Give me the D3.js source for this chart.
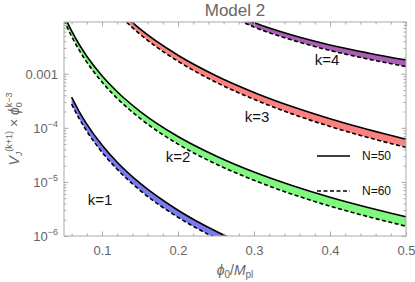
<!DOCTYPE html>
<html>
<head>
<meta charset="utf-8">
<script src="https://cdn.jsdelivr.net/npm/d3@7"></script>
<style>
	body { margin: 0; background: #fff; }
	text { font-family: 'Liberation Sans', Arial, sans-serif; }
</style>
</head>
<body>
<svg width="415" height="282"></svg>
<script>
// values, one grid of phi0/Mpl per band
const phiK1 = [0.06, 0.07, 0.08, 0.1, 0.12, 0.15, 0.2, 0.25, 0.3]
const k1N50 = [3.69e-4, 2.0e-4, 1.17e-4, 4.79e-5, 2.31e-5, 9.46e-6, 2.99e-6, 1.22e-6, 5.9e-7]
const k1N60 = [2.74e-4, 1.48e-4, 8.67e-5, 3.55e-5, 1.71e-5, 7.0e-6, 2.22e-6, 9.1e-7, 4.4e-7]

const phiK2 = [0.05, 0.06, 0.07, 0.08, 0.1, 0.12, 0.15, 0.2, 0.25, 0.3, 0.35, 0.4, 0.45, 0.5]
const k2N50 = [1.22e-2, 6.17e-3, 3.47e-3, 2.11e-3, 9.16e-4, 4.65e-4, 2.02e-4, 6.9e-5, 3.01e-5, 1.52e-5, 8.57e-6, 5.2e-6, 3.36e-6, 2.26e-6]
const k2N60 = [9.84e-3, 4.91e-3, 2.73e-3, 1.64e-3, 7.02e-4, 3.5e-4, 1.5e-4, 5.0e-5, 2.14e-5, 1.07e-5, 5.93e-6, 3.56e-6, 2.28e-6, 1.52e-6]

const phiK3 = [0.12, 0.15, 0.2, 0.25, 0.3, 0.35, 0.4, 0.45, 0.5]
const k3N50 = [1.61e-2, 6.73e-3, 2.19e-3, 9.18e-4, 4.51e-4, 2.47e-4, 1.47e-4, 9.27e-5, 6.15e-5]
const k3N60 = [1.31e-2, 5.37e-3, 1.7e-3, 6.95e-4, 3.36e-4, 1.81e-4, 1.06e-4, 6.62e-5, 4.35e-5]

const phiK4 = [0.25, 0.3, 0.35, 0.4, 0.45, 0.5]
const k4N50 = [1.9e-2, 8.83e-3, 5.19e-3, 3.4e-3, 2.42e-3, 1.79e-3]
const k4N60 = [1.6e-2, 7.29e-3, 4.2e-3, 2.69e-3, 1.87e-3, 1.36e-3]

const kNames = ['k=1', 'k=2', 'k=3', 'k=4']
const bandColors = ['#7b7bf0', '#80f880', '#fb8080', '#aa5fb5']
const legendNames = ['N=50', 'N=60']

const xTicks = [0.1, 0.2, 0.3, 0.4, 0.5]
const xTickLabels = ['0.1', '0.2', '0.3', '0.4', '0.5']
const xMinor = [0.06, 0.08, 0.12, 0.14, 0.16, 0.18, 0.22, 0.24, 0.26, 0.28,
	0.32, 0.34, 0.36, 0.38, 0.42, 0.44, 0.46, 0.48]
const yTicks = [1e-6, 1e-5, 1e-4, 1e-3]
const yTickLabels = [['10', '\u22126'], ['10', '\u22125'], ['10', '\u22124'], ['0.001', '']]

const pl = 64, pr = 406, pt = 22, pb = 236

const x = d3.scaleLinear().domain([0.05, 0.5]).range([pl, pr])
const y = d3.scaleLog().domain([1e-6, 0.00904]).range([pb, pt])

const svg = d3.select('svg')

svg.append('defs').append('clipPath')
	.attr('id', 'plot')
	.append('rect')
	.attr('x', pl).attr('y', pt)
	.attr('width', pr - pl).attr('height', pb - pt)

const bands = [
	{phi: phiK1, hi: k1N50, lo: k1N60},
	{phi: phiK2, hi: k2N50, lo: k2N60},
	{phi: phiK3, hi: k3N50, lo: k3N60},
	{phi: phiK4, hi: k4N50, lo: k4N60}
].map((b, i) => ({
	color: bandColors[i],
	pts: b.phi.map((p, j) => ({phi: p, hi: b.hi[j], lo: b.lo[j]}))
}))

const plot = svg.append('g').attr('clip-path', 'url(#plot)')

const area = d3.area()
	.x(d => x(d.phi))
	.y0(d => y(d.lo))
	.y1(d => y(d.hi))
	.curve(d3.curveMonotoneX)
const lineHi = d3.line().x(d => x(d.phi)).y(d => y(d.hi)).curve(d3.curveMonotoneX)
const lineLo = d3.line().x(d => x(d.phi)).y(d => y(d.lo)).curve(d3.curveMonotoneX)

plot.selectAll('path.band')
	.data(bands)
	.enter()
	.append('path')
	.attr('class', 'band')
	.attr('d', d => area(d.pts))
	.attr('fill', d => d.color)

plot.selectAll('path.n60')
	.data(bands)
	.enter()
	.append('path')
	.attr('class', 'n60')
	.attr('d', d => lineLo(d.pts))
	.attr('fill', 'none')
	.attr('stroke', '#000')
	.attr('stroke-width', 1.6)
	.attr('stroke-dasharray', '4,2.5')

plot.selectAll('path.n50')
	.data(bands)
	.enter()
	.append('path')
	.attr('class', 'n50')
	.attr('d', d => lineHi(d.pts))
	.attr('fill', 'none')
	.attr('stroke', '#000')
	.attr('stroke-width', 1.6)

// frame and ticks (inward, mirrored on top/right)
const frameColor = '#aaaaaa'
const labelColor = '#666666'

function styleAxis(g) {
	g.select('.domain').remove()
	g.selectAll('line').attr('stroke', frameColor)
}

svg.append('g').attr('transform', `translate(0,${pb})`)
	.call(d3.axisBottom(x).tickValues(xMinor).tickSize(-2.5).tickFormat(''))
	.call(styleAxis)
svg.append('g').attr('transform', `translate(0,${pt})`)
	.call(d3.axisTop(x).tickValues(xMinor).tickSize(-2.5).tickFormat(''))
	.call(styleAxis)
svg.append('g').attr('transform', `translate(0,${pt})`)
	.call(d3.axisTop(x).tickValues(xTicks).tickSize(-4.5).tickFormat(''))
	.call(styleAxis)

const xAxis = svg.append('g').attr('transform', `translate(0,${pb})`)
	.call(d3.axisBottom(x).tickValues(xTicks).tickSize(-4.5).tickPadding(10)
		.tickFormat((d, i) => xTickLabels[i]))
	.call(styleAxis)
xAxis.selectAll('text')
	.attr('fill', labelColor)
	.attr('font-size', 13)
	.style('font-family', "'Liberation Sans', Arial, sans-serif")

const yMinor = y.ticks().filter(v => yTicks.indexOf(v) < 0)
svg.append('g').attr('transform', `translate(${pl},0)`)
	.call(d3.axisLeft(y).tickValues(yMinor).tickSize(-2.5).tickFormat(''))
	.call(styleAxis)
svg.append('g').attr('transform', `translate(${pl},0)`)
	.call(d3.axisLeft(y).tickValues(yTicks).tickSize(-4.5).tickFormat(''))
	.call(styleAxis)
svg.append('g').attr('transform', `translate(${pr},0)`)
	.call(d3.axisRight(y).tickValues(yMinor).tickSize(-2.5).tickFormat(''))
	.call(styleAxis)
svg.append('g').attr('transform', `translate(${pr},0)`)
	.call(d3.axisRight(y).tickValues(yTicks).tickSize(-4.5).tickFormat(''))
	.call(styleAxis)

const yLab = svg.selectAll('text.ylab')
	.data(yTicks)
	.enter()
	.append('text')
	.attr('class', 'ylab')
	.attr('x', pl - 6)
	.attr('y', d => y(d) + 5)
	.attr('text-anchor', 'end')
	.attr('fill', labelColor)
	.attr('font-size', 13)
yLab.append('tspan').text((d, i) => yTickLabels[i][0])
yLab.append('tspan')
	.attr('dy', -6)
	.attr('font-size', 9)
	.text((d, i) => yTickLabels[i][1])

svg.append('rect')
	.attr('x', pl).attr('y', pt)
	.attr('width', pr - pl).attr('height', pb - pt)
	.attr('fill', 'none')
	.attr('stroke', frameColor)
	.attr('stroke-width', 1)

// title
svg.append('text')
	.attr('x', (pl + pr) / 2)
	.attr('y', 16)
	.attr('text-anchor', 'middle')
	.attr('fill', labelColor)
	.attr('font-size', 17)
	.text('Model 2')

// x title: phi_0 / M_pl
const xt = svg.append('text')
	.attr('x', (pl + pr) / 2)
	.attr('y', 275)
	.attr('text-anchor', 'middle')
	.attr('fill', labelColor)
	.attr('font-size', 14)
xt.append('tspan').attr('font-style', 'italic').text('\u03d5')
xt.append('tspan').attr('font-size', 10).attr('dy', 3).text('0')
xt.append('tspan').attr('dy', -3).text('/')
xt.append('tspan').attr('font-style', 'italic').text('M')
xt.append('tspan').attr('font-size', 10).attr('dy', 3).text('pl')

// y title: V_J^(k+1) x phi_0^(k-3)
const yt = svg.append('text')
	.attr('transform', `translate(19,${(pt + pb) / 2}) rotate(-90)`)
	.attr('text-anchor', 'middle')
	.attr('fill', labelColor)
	.attr('font-size', 14)
yt.append('tspan').attr('font-style', 'italic').text('V')
yt.append('tspan').attr('font-size', 9).attr('dy', 3).attr('font-style', 'italic').text('J')
yt.append('tspan').attr('font-size', 9).attr('dy', -10).text('(k+1)')
yt.append('tspan').attr('dy', 7).text(' \u00d7 ')
yt.append('tspan').attr('font-style', 'italic').text('\u03d5')
yt.append('tspan').attr('font-size', 9).attr('dy', 3).text('0')
yt.append('tspan').attr('font-size', 9).attr('dy', -10).attr('dx', -5).text('k\u22123')

// band labels
const kPos = [[100, 205], [178, 162], [257, 122], [327, 65]]
svg.selectAll('text.klab')
	.data(kNames)
	.enter()
	.append('text')
	.attr('class', 'klab')
	.attr('x', (d, i) => kPos[i][0])
	.attr('y', (d, i) => kPos[i][1])
	.attr('text-anchor', 'middle')
	.attr('font-size', 15)
	.attr('fill', '#111')
	.text(d => d)

// legend
const legY = [156, 191]
const leg = svg.selectAll('g.leg')
	.data(legendNames)
	.enter()
	.append('g')
	.attr('class', 'leg')
	.attr('transform', (d, i) => `translate(317,${legY[i]})`)
leg.append('line')
	.attr('x1', 0).attr('x2', 33)
	.attr('stroke', '#000')
	.attr('stroke-width', 1.6)
	.attr('stroke-dasharray', (d, i) => i ? '4,2.5' : null)
leg.append('text')
	.attr('x', 45)
	.attr('y', 4)
	.attr('font-size', 12)
	.attr('fill', '#111')
	.text(d => d)
</script>
</body>
</html>
